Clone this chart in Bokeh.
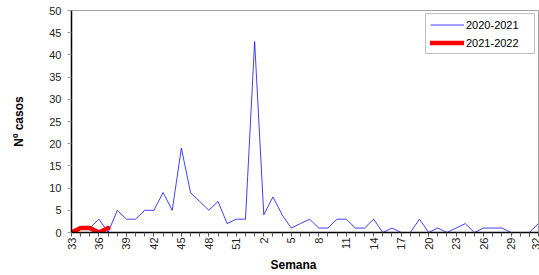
import math
from bokeh.plotting import figure
from bokeh.models import FixedTicker, Range1d, Title, Legend, LegendItem
from bokeh.embed import file_html
from bokeh.resources import INLINE

weeks = [33, 34, 35, 36, 37, 38, 39, 40, 41, 42, 43, 44, 45, 46, 47, 48, 49, 50, 51, 52,
         1, 2, 3, 4, 5, 6, 7, 8, 9, 10, 11, 12, 13, 14, 15, 16, 17, 18, 19, 20,
         21, 22, 23, 24, 25, 26, 27, 28, 29, 30, 31, 32]
s2020 = [0, 1, 1, 3, 0, 5, 3, 3, 5, 5, 9, 5, 19, 9, 7, 5, 7, 2, 3, 3,
         43, 4, 8, 4, 1, 2, 3, 1, 1, 3, 3, 1, 1, 3, 0, 1, 0, 0, 3, 0,
         1, 0, 1, 2, 0, 1, 1, 1, 0, 0, 0, 2]
s2021 = [0, 1, 1, 0, 1]
y_ticks = [0, 5, 10, 15, 20, 25, 30, 35, 40, 45, 50]

FONT = "Liberation Sans"

p = figure(width=539, height=275, output_backend="svg", toolbar_location=None,
           x_range=Range1d(0, len(weeks) - 1), y_range=Range1d(0, 50),
           min_border_left=71, min_border_right=1, min_border_top=10, min_border_bottom=43)

p.background_fill_color = "white"
p.border_fill_color = "white"
p.outline_line_color = "#A0A0A0"
p.outline_line_width = 1
p.xgrid.visible = False
p.ygrid.visible = False

xi = list(range(len(weeks)))
r1 = p.line(xi, s2020, line_color="#0000FF", line_width=0.75)
r2 = p.line(xi[:len(s2021)], s2021, line_color="#FF0000", line_width=4.5,
            line_join="round", line_cap="round")

# x axis
p.xaxis.ticker = FixedTicker(ticks=xi)
p.xaxis.major_label_overrides = {i: (str(w) if i % 3 == 0 else "") for i, w in enumerate(weeks)}
p.xaxis.major_label_orientation = math.pi / 2
p.xaxis.major_label_text_font = FONT
p.xaxis.major_label_text_font_size = "11px"
p.xaxis.major_label_text_color = "#222222"
p.xaxis.major_label_standoff = 1
p.xaxis.major_tick_in = 0
p.xaxis.major_tick_out = 4
p.xaxis.major_tick_line_color = "#555555"
p.xaxis.minor_tick_line_color = None
p.xaxis.axis_line_color = "black"
p.xaxis.axis_line_width = 1.5

# y axis
p.yaxis.ticker = FixedTicker(ticks=y_ticks)
p.yaxis.major_label_text_font = FONT
p.yaxis.major_label_text_font_size = "11px"
p.yaxis.major_label_text_color = "#222222"
p.yaxis.major_label_standoff = 6
p.yaxis.major_tick_in = 0
p.yaxis.major_tick_out = 4
p.yaxis.major_tick_line_color = "#999999"
p.yaxis.minor_tick_line_color = None
p.yaxis.axis_line_color = "black"
p.yaxis.axis_line_width = 1.5
p.yaxis.axis_label = "Nº casos"
p.yaxis.axis_label_text_font = FONT
p.yaxis.axis_label_text_font_size = "12px"
p.yaxis.axis_label_text_font_style = "bold"
p.yaxis.axis_label_text_color = "black"
p.yaxis.axis_label_standoff = 20

# x axis title
p.add_layout(Title(text="Semana", align="left", offset=199, standoff=6,
                   text_font=FONT, text_font_size="12px", text_font_style="bold",
                   text_color="black"), "below")

legend = Legend(items=[LegendItem(label="2020-2021", renderers=[r1]),
                       LegendItem(label="2021-2022", renderers=[r2])],
                location="top_right")
legend.margin = 3
legend.padding = 4
legend.spacing = 5
legend.glyph_width = 34
legend.glyph_height = 13
legend.label_height = 13
legend.label_width = 64
legend.label_standoff = 2
legend.label_text_font = FONT
legend.label_text_font_size = "11px"
legend.label_text_color = "black"
legend.border_line_color = "#808080"
legend.border_line_width = 1
legend.background_fill_color = "white"
legend.background_fill_alpha = 1
p.add_layout(legend)

open("out.html", "w").write(file_html(p, INLINE))
